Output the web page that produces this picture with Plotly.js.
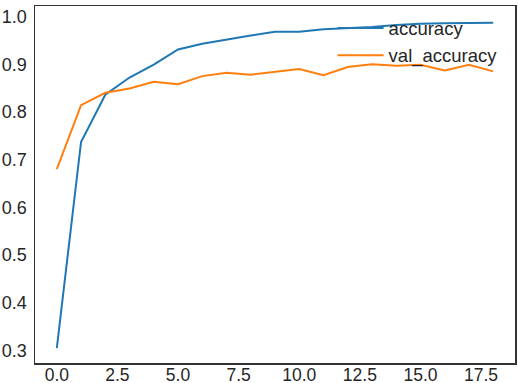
<!DOCTYPE html>
<html>
<head>
<meta charset="utf-8">
<script src="https://cdn.plot.ly/plotly-3.0.1.min.js"></script>
<style>html,body{margin:0;padding:0;background:#fff;}#chart{width:518px;height:383px;}</style>
</head>
<body>
<div id="chart"></div>
<script>
const epochs = [0,1,2,3,4,5,6,7,8,9,10,11,12,13,14,15,16,17,18];
const accuracy = [0.305,0.737,0.836,0.872,0.899,0.931,0.943,0.952,0.960,0.968,0.968,0.973,0.975,0.978,0.982,0.985,0.986,0.987,0.987];
const valAccuracy = [0.680,0.814,0.840,0.849,0.863,0.858,0.875,0.882,0.878,0.884,0.890,0.877,0.894,0.900,0.897,0.899,0.887,0.899,0.885];
const xTickVals = [0,2.5,5,7.5,10,12.5,15,17.5];
const xTickText = ["0.0","2.5","5.0","7.5","10.0","12.5","15.0","17.5"];
const yTickVals = [0.3,0.4,0.5,0.6,0.7,0.8,0.9,1.0];
const yTickText = ["0.3","0.4","0.5","0.6","0.7","0.8","0.9","1.0"];

const traces = [
  {x: epochs, y: accuracy, name: "accuracy", mode: "lines", line: {color: "#1f77b4", width: 2}},
  {x: epochs, y: valAccuracy, name: "val_accuracy", mode: "lines", line: {color: "#ff7f0e", width: 2}}
];
const layout = {
  width: 518, height: 383,
  margin: {l: 35, r: 3, t: 6, b: 20},
  paper_bgcolor: "#fff", plot_bgcolor: "#fff",
  font: {family: "Liberation Sans, Arial, sans-serif", size: 18, color: "#262626"},
  showlegend: true,
  legend: {x: 0.62, xanchor: "left", y: 0.99, yanchor: "top", bgcolor: "rgba(0,0,0,0)",
           itemwidth: 46, font: {size: 18.5, color: "#262626"}},
  xaxis: {range: [-0.9, 18.9], tickvals: xTickVals, ticktext: xTickText, showgrid: false, zeroline: false,
          showline: true, mirror: true, linecolor: "#333", linewidth: 1.5, ticks: "", ticklabelstandoff: -5,
          tickfont: {size: 17.5}},
  yaxis: {range: [0.2736, 1.022], tickvals: yTickVals, ticktext: yTickText, showgrid: false, zeroline: false,
          showline: true, mirror: true, linecolor: "#333", linewidth: 1.5, ticks: "", ticklabelstandoff: 3}
};
Plotly.newPlot("chart", traces, layout, {displayModeBar: false, staticPlot: true});
</script>
</body>
</html>
